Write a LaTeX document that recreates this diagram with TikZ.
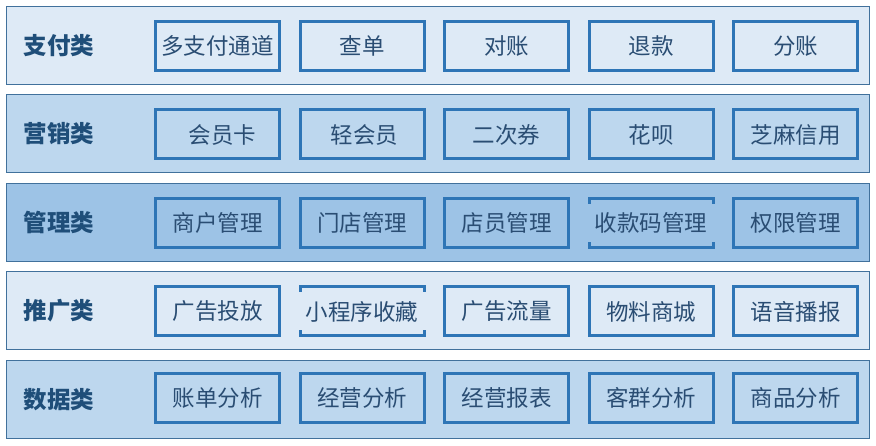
\documentclass[tikz,border=0pt]{standalone}
\usepackage{fontspec}
\setmainfont{Noto Sans CJK SC}
\usepackage{tikz}
\definecolor{bandA}{HTML}{DEEAF6}
\definecolor{bandB}{HTML}{BDD7EE}
\definecolor{bandC}{HTML}{9DC3E6}
\definecolor{bandline}{HTML}{41719C}
\definecolor{boxline}{HTML}{2E75B6}
\definecolor{itemtext}{HTML}{2A4D73}
\definecolor{cattext}{HTML}{1F4E79}
\tikzset{
  band/.style={draw=bandline, line width=1pt, minimum width=863pt, minimum height=78pt, inner sep=0pt},
  cat/.style={text=cattext, font=\fontsize{23.5}{28}\selectfont\bfseries, inner sep=0pt},
  item/.style={draw=boxline, line width=3pt, minimum width=124pt, minimum height=49pt, inner sep=0pt,
    text=itemtext, font=\fontsize{22.5}{27}\selectfont},
  cover/.style={minimum width=134pt, minimum height=38pt, inner sep=0pt,
    text=itemtext, font=\fontsize{22.5}{27}\selectfont}
}

\begin{document}
\begin{tikzpicture}[x=1pt, y=-1pt]
\useasboundingbox (0,0) rectangle (876,446);
% bands
\node[band, fill=bandA] (pay) at (438,45.5){};
\node[band, fill=bandB] (mkt) at (438,134){};
\node[band, fill=bandC] (mgr) at (438,222.5){};
\node[band, fill=bandA] (ext) at (438,311){};
\node[band, fill=bandB] (dat) at (438,399.5){};
\node[cat] (payL) at (59,45.5){支付类};
\node[cat] (mktL) at (59,134){营销类};
\node[cat] (mgrL) at (59,222.5){管理类};
\node[cat] (extL) at (59,311){推广类};
\node[cat] (datL) at (59,399.5){数据类};

% row 1
\node[item] (pay1) at (217.5,46){多支付通道};
\node[item] (pay2) at (362,46){查单};
\node[item] (pay3) at (506.5,46){对账};
\node[item] (pay4) at (651,46){退款};
\node[item] (pay5) at (795.5,46){分账};
% row 2
\node[item] (mkt1) at (217.5,134.5){\hspace{10pt}会员卡};
\node[item] (mkt2) at (362,134.5){\hspace{5pt}轻会员};
\node[item] (mkt3) at (506.5,134.5){二次券};
\node[item] (mkt4) at (651,134.5){花呗};
\node[item] (mkt5) at (795.5,134.5){芝麻信用};
% row 3
\node[item] (mgr1) at (217.5,223){商户管理};
\node[item] (mgr2) at (362,223){门店管理};
\node[item] (mgr3) at (506.5,223){店员管理};
\node[item] (mgr4) at (651,223){};
\node[cover, fill=bandC] (mgr4t) at (mgr4){收款码管理};
\node[item] (mgr5) at (795.5,223){权限管理};
% row 4
\node[item] (ext1) at (217.5,311.5){广告投放};
\node[item] (ext2) at (362,311.5){};
\node[cover, fill=bandA] (ext2t) at (ext2){小程序收藏};
\node[item] (ext3) at (506.5,311.5){广告流量};
\node[item] (ext4) at (651,311.5){物料商城};
\node[item] (ext5) at (795.5,311.5){语音播报};
% row 5
\node[item] (dat1) at (217.5,398){账单分析};
\node[item] (dat2) at (362,398){经营分析};
\node[item] (dat3) at (506.5,398){经营报表};
\node[item] (dat4) at (651,398){客群分析};
\node[item] (dat5) at (795.5,398){商品分析};

\end{tikzpicture}
\end{document}
